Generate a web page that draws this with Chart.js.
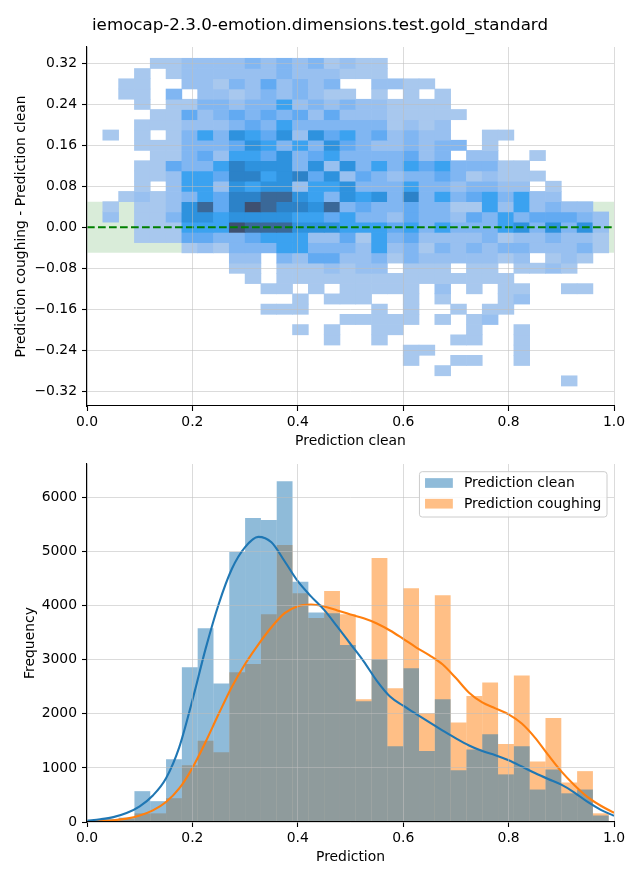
<!DOCTYPE html>
<html><head><meta charset="utf-8">
<script src="https://cdn.jsdelivr.net/npm/chart.js@4.4.1/dist/chart.umd.min.js"></script>
<style>
html,body{margin:0;padding:0;background:#fff;}
#wrap{position:relative;width:640px;height:880px;overflow:hidden;background:#fff;}
canvas{position:absolute;left:0;}
#c1{top:0;} #c2{top:430px;}
</style></head><body>
<div id="wrap"><canvas id="c1" width="640" height="460"></canvas><canvas id="c2" width="640" height="450"></canvas></div>
<script>
// ---------------- data ----------------
const chartTitle = 'iemocap-2.3.0-emotion.dimensions.test.gold_standard';
const binCenters = [0.015,0.045,0.075,0.105,0.135,0.165,0.195,0.225,0.255,0.285,0.315,0.345,0.375,0.405,0.435,0.465,0.495,0.525,0.555,0.585,0.615,0.645,0.675,0.705,0.735,0.765,0.795,0.825,0.855,0.885,0.915,0.945,0.975];

// top: 2D histogram (difference vs clean prediction); rows = y bins (lower edges), values = density level 0..9
const yBinSize = 0.02;
const heatRowLow = [0.31,0.29,0.27,0.25,0.23,0.21,0.19,0.17,0.15,0.13,0.11,0.09,0.07,0.05,0.03,0.01,-0.01,-0.03,-0.05,-0.07,-0.09,-0.11,-0.13,-0.15,-0.17,-0.19,-0.21,-0.23,-0.25,-0.27,-0.29,-0.31];
const heatLevels = [
 [0,0,0,0,1,1,2,2,2,2,3,2,3,2,3,1,2,1,1,0,0,0,0,0,0,0,0,0,0,0,0,0,0],
 [0,0,0,1,0,1,2,2,2,2,2,2,3,2,2,2,1,1,1,0,0,0,0,0,0,0,0,0,0,0,0,0,0],
 [0,0,1,1,0,0,2,2,1,3,2,4,2,3,2,3,0,0,2,2,1,1,0,0,0,0,0,0,0,0,0,0,0],
 [0,0,1,1,0,3,0,2,2,1,2,3,2,3,2,1,1,0,1,0,1,0,1,0,0,0,0,0,0,0,0,0,0],
 [0,0,0,1,0,1,1,3,3,2,3,3,5,2,3,2,3,2,2,1,1,1,1,0,0,0,0,0,0,0,0,0,0],
 [0,0,0,0,1,1,4,2,3,4,3,4,3,4,2,4,2,2,2,1,1,1,1,1,0,0,0,0,0,0,0,0,0],
 [0,0,0,1,1,1,2,2,2,3,4,3,5,3,3,3,3,3,3,1,2,1,2,0,0,0,0,0,0,0,0,0,0],
 [0,1,0,1,0,1,3,5,3,6,5,4,6,2,6,4,5,3,4,2,3,2,2,0,0,1,1,0,0,0,0,0,0],
 [0,0,0,1,1,1,3,3,3,4,6,5,3,5,3,6,4,3,2,2,3,2,3,3,0,1,0,0,0,0,0,0,0],
 [0,0,0,0,1,1,3,4,2,5,5,4,6,3,4,5,3,3,3,3,4,2,3,0,2,2,0,0,1,0,0,0,0],
 [0,0,0,1,1,4,3,3,5,7,6,6,6,3,6,2,6,3,5,3,5,4,5,3,3,3,1,1,0,0,0,0,0],
 [0,0,0,1,1,2,5,5,4,7,7,5,6,7,4,6,2,4,3,2,3,3,4,3,1,2,1,1,1,0,0,0,0],
 [0,0,0,1,0,2,5,5,2,6,5,6,6,2,5,5,6,3,3,3,5,3,3,2,3,3,2,2,0,1,0,0,0],
 [0,0,1,2,1,2,3,5,4,7,7,8,8,6,5,3,6,5,6,3,7,3,5,3,4,5,3,5,2,2,0,0,0],
 [0,1,0,1,1,2,6,8,4,7,9,8,7,7,6,8,3,4,3,3,4,3,3,1,1,5,2,5,2,3,2,2,0],
 [0,2,0,1,1,3,6,6,5,6,6,6,6,5,5,4,5,3,3,2,4,3,3,2,4,3,5,3,4,4,4,3,2],
 [0,0,0,1,1,1,5,5,5,9,8,8,8,6,6,6,5,5,5,4,5,3,5,3,3,3,5,6,3,6,3,6,2],
 [0,0,0,1,1,1,4,4,3,3,4,5,5,5,2,2,4,1,5,3,4,2,2,2,2,3,1,2,2,3,2,2,1],
 [0,0,0,0,0,0,1,2,1,3,3,3,5,5,3,3,3,2,5,2,3,1,3,2,3,2,3,3,2,2,2,3,1],
 [0,0,0,0,0,0,0,0,0,2,2,0,3,2,4,4,2,2,3,1,3,2,2,2,2,2,1,2,0,1,2,1,0],
 [0,0,0,0,0,0,0,0,0,1,1,0,1,1,1,2,1,2,2,0,1,1,1,0,1,1,0,1,1,2,1,0,0],
 [0,0,0,0,0,0,0,0,0,0,1,0,1,1,1,1,1,1,1,1,1,1,1,1,1,1,1,0,0,0,0,0,0],
 [0,0,0,0,0,0,0,0,0,0,0,1,1,0,1,0,1,1,1,1,1,0,2,0,1,0,1,1,0,0,1,1,0],
 [0,0,0,0,0,0,0,0,0,0,0,0,0,1,0,1,1,1,0,0,1,0,1,0,0,0,1,2,0,0,0,0,0],
 [0,0,0,0,0,0,0,0,0,0,0,1,1,1,0,0,0,0,1,0,1,0,0,1,0,1,1,0,0,0,0,0,0],
 [0,0,0,0,0,0,0,0,0,0,0,0,0,0,0,0,1,1,1,1,1,0,1,0,1,2,0,0,0,0,0,0,0],
 [0,0,0,0,0,0,0,0,0,0,0,0,0,1,0,1,0,0,1,1,0,0,0,0,1,0,0,1,0,0,0,0,0],
 [0,0,0,0,0,0,0,0,0,0,0,0,0,0,0,1,0,0,1,0,0,0,0,1,1,0,0,1,0,0,0,0,0],
 [0,0,0,0,0,0,0,0,0,0,0,0,0,0,0,0,0,0,0,0,1,1,0,0,0,0,0,1,0,0,0,0,0],
 [0,0,0,0,0,0,0,0,0,0,0,0,0,0,0,0,0,0,0,0,1,0,0,1,1,0,0,1,0,0,0,0,0],
 [0,0,0,0,0,0,0,0,0,0,0,0,0,0,0,0,0,0,0,0,0,0,1,0,0,0,0,0,0,0,0,0,0],
 [0,0,0,0,0,0,0,0,0,0,0,0,0,0,0,0,0,0,0,0,0,0,0,0,0,0,0,0,0,0,1,0,0]
];
const bandLow = -0.05, bandHigh = 0.05;
const topXTicks = [0, 0.2, 0.4, 0.6, 0.8, 1.0];
const topXLabels = ['0.0','0.2','0.4','0.6','0.8','1.0'];
const topYTicks = [-0.32,-0.24,-0.16,-0.08,0,0.08,0.16,0.24,0.32];
const topYLabels = ['\u22120.32','\u22120.24','\u22120.16','\u22120.08','0.00','0.08','0.16','0.24','0.32'];

// bottom: histograms + KDE
const cleanCounts = [30,55,80,570,385,1160,2860,3580,2560,4990,5620,5580,6300,4440,3870,3860,3270,2230,3010,1400,2840,1310,2270,955,1340,1620,880,1400,600,970,530,600,120];
const coughCounts = [20,40,60,160,160,440,1050,1500,1290,2770,2920,3840,5120,4230,3770,4270,3840,2270,4880,2470,4320,2010,4190,1840,2330,2580,1440,2710,1120,1920,730,940,160];
const kdeX = [0,0.025,0.05,0.075,0.1,0.125,0.15,0.175,0.2,0.225,0.25,0.275,0.3,0.325,0.35,0.375,0.4,0.425,0.45,0.475,0.5,0.525,0.55,0.575,0.6,0.625,0.65,0.675,0.7,0.725,0.75,0.775,0.8,0.825,0.85,0.875,0.9,0.925,0.95,0.975,1.0];
const kdeClean = [25,50,90,165,290,490,810,1380,2250,3200,4030,4680,5080,5270,5170,4820,4450,4170,3920,3610,3290,2970,2610,2320,2150,1995,1840,1690,1545,1415,1312,1235,1140,1025,905,795,690,545,370,225,115];
const kdeCough = [10,18,32,62,120,215,370,620,1000,1480,2000,2500,2920,3280,3600,3860,3990,4020,3985,3910,3835,3765,3670,3540,3385,3225,3080,2910,2660,2390,2210,2100,1990,1820,1560,1240,935,680,460,300,170];
const botXTicks = [0, 0.2, 0.4, 0.6, 0.8, 1.0];
const botXLabels = ['0.0','0.2','0.4','0.6','0.8','1.0'];
const botYTicks = [0,1000,2000,3000,4000,5000,6000];
const botYLabels = ['0','1000','2000','3000','4000','5000','6000'];
const seriesNames = ['Prediction clean','Prediction coughing'];

// ---------------- style ----------------
Chart.defaults.font.family = "'DejaVu Sans', sans-serif";
Chart.defaults.font.size = 13.9;
Chart.defaults.color = '#000';
const FONT = {family:"'DejaVu Sans', sans-serif", size:13.9};
const GRID = 'rgba(190,190,190,0.55)';
const heatPalette = ['rgba(0,0,0,0)','#a8c8ee','#98c0f0','#80b6f2','#62aaf2','#3ba2f0','#2e92de','#2c82c8','#3a6898','#3e5070'];

function axisX(ticks, labels, title, height, titlePad, gridColor) {
  return {
    type:'linear', min:0, max:1, offset:false,
    afterBuildTicks: s => { s.ticks = ticks.map(v => ({value:v})); },
    afterFit: s => { s.height = height; },
    ticks:{callback:(v,i)=>labels[i], font:FONT, color:'#000', padding:3, maxRotation:0, autoSkip:false},
    grid:{z:1, color:gridColor || GRID, lineWidth:1, tickColor:'#000', tickLength:5, tickWidth:1.1, offset:false},
    border:{display:true, color:'#000', width:1.1, z:2},
    title:{display:true, text:title, font:FONT, color:'#000', padding:{top:0,bottom:titlePad}}
  };
}
function axisY(min, max, ticks, labels, title, titlePad, gridColor) {
  return {
    type:'linear', min:min, max:max,
    afterBuildTicks: s => { s.ticks = ticks.map(v => ({value:v})); },
    afterFit: s => { s.width = 87; },
    ticks:{callback:(v,i)=>labels[i], font:FONT, color:'#000', padding:5, autoSkip:false},
    grid:{z:1, color:gridColor || GRID, lineWidth:1, tickColor:'#000', tickLength:5, tickWidth:1.1},
    border:{display:true, color:'#000', width:1.1, z:2},
    title:{display:true, text:title, font:FONT, color:'#000', padding:{top:titlePad,bottom:0}}
  };
}

// figure-level title centred on the whole 640px figure
const figTitlePlugin = {
  id:'figTitle',
  afterDraw(chart) {
    const ctx = chart.ctx;
    ctx.save();
    ctx.font = "16.7px 'DejaVu Sans', sans-serif";
    ctx.fillStyle = '#000'; ctx.textAlign = 'center'; ctx.textBaseline = 'middle';
    ctx.fillText(chartTitle, chart.width / 2, 26);
    ctx.restore();
  }
};

// ---------------- top chart ----------------
const heatDatasets = heatRowLow.map((lo, r) => ({
  type:'bar',
  data: heatLevels[r].map((v, c) => v ? {x: binCenters[c], y: [lo, lo + yBinSize], v: v} : null).filter(Boolean),
  backgroundColor: ctx => heatPalette[ctx.raw ? ctx.raw.v : 0],
  borderWidth:0, barPercentage:1, categoryPercentage:1, grouped:false, order:5
}));
const topDatasets = [
  {type:'line', data:[{x:0,y:bandHigh},{x:1,y:bandHigh}], fill:{value:bandLow}, backgroundColor:'rgba(0,128,0,0.15)', borderColor:'rgba(0,0,0,0)', borderWidth:1, pointRadius:0, order:10},
  ...heatDatasets,
  {type:'line', data:[{x:0,y:0},{x:1,y:0}], borderColor:'#008000', borderWidth:2.1, borderDash:[7.7,3.3], pointRadius:0, fill:false, order:0}
];
new Chart(document.getElementById('c1'), {
  type:'bar',
  data:{datasets: topDatasets},
  options:{
    responsive:false, animation:false, devicePixelRatio:1,
    layout:{padding:{top:47,right:26,left:0,bottom:0}},
    plugins:{legend:{display:false}, tooltip:{enabled:false}, title:{display:false}},
    scales:{
      x: axisX(topXTicks, topXLabels, 'Prediction clean', 54, 10.6),
      y: axisY(-0.349, 0.352, topYTicks, topYLabels, 'Prediction coughing - Prediction clean', 12.6,
         ctx => (ctx.tick && ctx.tick.value === 0) ? 'rgba(0,0,0,0)' : GRID)
    }
  },
  plugins:[figTitlePlugin]
});

// ---------------- bottom chart ----------------
const legendPlugin = {
  id:'mplLegend',
  afterDraw(chart) {
    const ctx = chart.ctx, a = chart.chartArea;
    const fs = 13.9;
    ctx.save();
    ctx.font = fs + "px 'DejaVu Sans', sans-serif";
    const items = chart.data.datasets.filter(d => d.type === 'bar');
    const tw = Math.max(...items.map(d => ctx.measureText(d.label).width));
    const pad = 5.6, hl = 27.8, htp = 11.1;
    const w = pad + hl + htp + tw + pad, h = 45.3;
    const x0 = a.right - 7 - w, y0 = a.top + 7.7;
    ctx.beginPath();
    ctx.roundRect(x0, y0, w, h, 2.8);
    ctx.fillStyle = 'rgba(255,255,255,0.8)';
    ctx.fill();
    ctx.strokeStyle = '#cccccc'; ctx.lineWidth = 1; ctx.stroke();
    items.forEach((d, i) => {
      const cy = a.top + 19 + i * 20.7;
      ctx.fillStyle = d.backgroundColor;
      ctx.fillRect(x0 + pad, cy - 4.85, hl, 9.7);
      ctx.fillStyle = '#000';
      ctx.textBaseline = 'middle'; ctx.textAlign = 'left';
      ctx.fillText(d.label, x0 + pad + hl + htp, cy + 0.5);
    });
    ctx.restore();
  }
};
new Chart(document.getElementById('c2'), {
  type:'bar',
  data:{datasets:[
    {type:'bar', label:seriesNames[0], data: binCenters.map((x,i)=>({x:x, y:cleanCounts[i]})), backgroundColor:'rgba(31,119,180,0.5)', borderWidth:0, barPercentage:1, categoryPercentage:1, grouped:false, inflateAmount:0, order:1},
    {type:'bar', label:seriesNames[1], data: binCenters.map((x,i)=>({x:x, y:coughCounts[i]})), backgroundColor:'rgba(255,127,14,0.5)', borderWidth:0, barPercentage:1, categoryPercentage:1, grouped:false, inflateAmount:0, order:2},
    {type:'line', label:'kde clean', data: kdeX.map((x,i)=>({x:x, y:kdeClean[i]})), borderColor:'#1f77b4', borderWidth:2.1, pointRadius:0, fill:false, cubicInterpolationMode:'monotone', order:0},
    {type:'line', label:'kde coughing', data: kdeX.map((x,i)=>({x:x, y:kdeCough[i]})), borderColor:'#ff7f0e', borderWidth:2.1, pointRadius:0, fill:false, cubicInterpolationMode:'monotone', order:0}
  ]},
  options:{
    responsive:false, animation:false, devicePixelRatio:1,
    layout:{padding:{top:34,right:26,left:0,bottom:0}},
    plugins:{legend:{display:false}, tooltip:{enabled:false}},
    scales:{
      x: axisX(botXTicks, botXLabels, 'Prediction', 58, 14.6),
      y: axisY(0, 6617, botYTicks, botYLabels, 'Frequency', 21.6)
    }
  },
  plugins:[legendPlugin]
});
</script>
</body></html>
